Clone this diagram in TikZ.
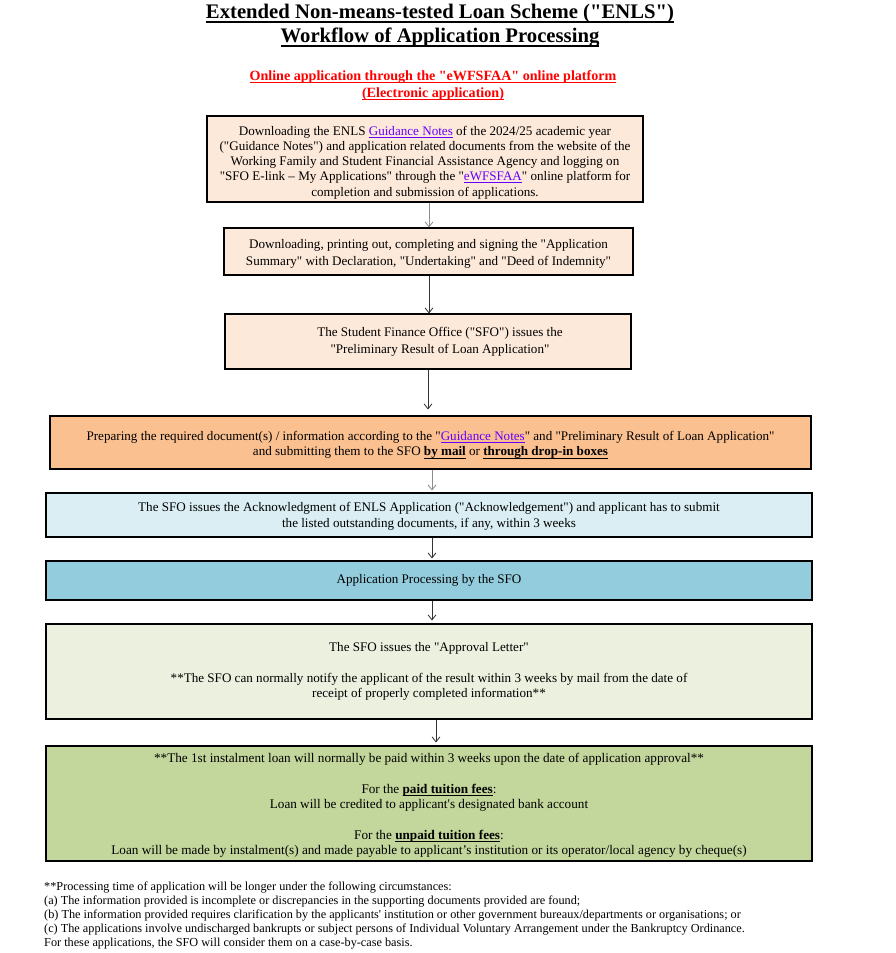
\documentclass[tikz,border=0pt]{standalone}
\usepackage{fontspec}
\setmainfont{Liberation Serif}[Ligatures=TeXOff]
\usetikzlibrary{arrows.meta}
\definecolor{peach}{RGB}{253,233,217}
\definecolor{orangebox}{RGB}{250,192,144}
\definecolor{lightblue}{RGB}{218,238,243}
\definecolor{midblue}{RGB}{147,205,221}
\definecolor{palegreen}{RGB}{235,241,222}
\definecolor{olivegreen}{RGB}{195,214,155}
\definecolor{linkcol}{RGB}{102,0,255}
\definecolor{titlered}{RGB}{255,0,0}
\newcommand\ulx[3]{\setbox0=\hbox{#3}\rlap{\copy0}\rule[#1]{\wd0}{#2}}
\newcommand\lnk[1]{{\color{linkcol}\ulx{-2.2pt}{0.7pt}{#1}}}
\newcommand\bul[1]{\ulx{-2.4pt}{0.7pt}{\bfseries #1}}
\newcommand\up[1]{\rule{0pt}{#1}}
\begin{document}
\begin{tikzpicture}[x=1pt,y=-1pt,
  box/.style={draw=black,line width=1.1pt,inner sep=0pt,align=center,font=\fontsize{13.1}{15.5}\selectfont},
  arr/.style={-{Straight Barb[length=5pt,width=8pt,line width=0.8pt]},line width=1pt,draw=black!80},
  garr/.style={arr,draw=black!45},
  ttl/.style={inner sep=0pt,align=center,font=\fontsize{20.7}{24}\selectfont\bfseries}]
\useasboundingbox (0,0) rectangle (895,953);
\fill[white] (0,0) rectangle (895,953);

\node[ttl] (title) at (440,26) {\ulx{-4.5pt}{2pt}{Extended Non-means-tested Loan Scheme ("ENLS")}\\[0pt]
\ulx{-4.5pt}{2pt}{Workflow of Application Processing}};

\node[inner sep=0pt,align=center,text=titlered,font=\fontsize{14.1}{17}\selectfont\bfseries] (sub) at (433,86)
{\ulx{-2.4pt}{1pt}{Online application through the "eWFSFAA" online platform}\\
\ulx{-2.4pt}{1pt}{(Electronic application)}};

\node[box,line width=2.8pt,fill=peach,minimum width=436,minimum height=86,font=\fontsize{13.1}{15.25}\selectfont] (b1) at (425,159)
{\up{16pt}Downloading the ENLS \lnk{Guidance Notes} of the 2024/25 academic year\\
("Guidance Notes") and application related documents from the website of the\\
Working Family and Student Financial Assistance Agency and logging on\\
"SFO E-link – My Applications" through the "\lnk{eWFSFAA}" online platform for\\
completion and submission of applications.};

\node[box,fill=peach,minimum width=409,minimum height=47,font=\fontsize{13.1}{16.8}\selectfont] (b2) at (428.5,251.5)
{\up{14pt}Downloading, printing out, completing and signing the "Application\\
Summary" with Declaration, "Undertaking" and "Deed of Indemnity"};

\node[box,fill=peach,minimum width=406,minimum height=55,font=\fontsize{13.1}{16.8}\selectfont] (b3) at (428,341.5)
{\hspace*{24pt}The Student Finance Office ("SFO") issues the\\
\hspace*{24pt}"Preliminary Result of Loan Application"};

\node[box,fill=orangebox,minimum width=761,minimum height=53] (b4) at (430.5,442.5)
{\up{14pt}Preparing the required document(s) / information according to the "\lnk{Guidance Notes}" and "Preliminary Result of Loan Application"\\
and submitting them to the SFO \bul{by mail} or \bul{through drop-in boxes}};

\node[box,fill=lightblue,minimum width=766,minimum height=44] (b5) at (429,515)
{\up{12pt}The SFO issues the Acknowledgment of ENLS Application ("Acknowledgement") and applicant has to submit\\
the listed outstanding documents, if any, within 3 weeks};

\node[box,fill=midblue,minimum width=766,minimum height=39] (b6) at (429,580.5)
{Application Processing by the SFO};

\node[box,fill=palegreen,minimum width=766,minimum height=95] (b7) at (429,671.5)
{The SFO issues the "Approval Letter"\\[15pt]
**The SFO can normally notify the applicant of the result within 3 weeks by mail from the date of\\
receipt of properly completed information**};

\node[box,fill=olivegreen,minimum width=766,minimum height=115,font=\fontsize{13.2}{15.4}\selectfont] (b8) at (429,803.5)
{\up{13pt}**The 1st instalment loan will normally be paid within 3 weeks upon the date of application approval**\\[15.4pt]
For the \bul{paid tuition fees}:\\
Loan will be credited to applicant's designated bank account\\[15.4pt]
For the \bul{unpaid tuition fees}:\\
Loan will be made by instalment(s) and made payable to applicant’s institution or its operator/local agency by cheque(s)};

\node[inner sep=0pt,anchor=north west,align=left,font=\fontsize{12.25}{14}\selectfont] (note) at (44,882)
{**Processing time of application will be longer under the following circumstances:\\
(a) The information provided is incomplete or discrepancies in the supporting documents provided are found;\\
(b) The information provided requires clarification by the applicants' institution or other government bureaux/departments or organisations; or\\
(c) The applications involve undischarged bankrupts or subject persons of Individual Voluntary Arrangement under the Bankruptcy Ordinance.\\
For these applications, the SFO will consider them on a case-by-case basis.};

\draw[garr] ([xshift=4pt]b1.south) -- ([xshift=0.5pt]b2.north);
\draw[arr] ([xshift=0.5pt]b2.south) -- ([xshift=1pt]b3.north);
\draw[arr,shorten >=6pt] (b3.south) -- ([xshift=-2.5pt]b4.north);
\draw[garr,shorten >=2pt] ([xshift=1.5pt]b4.south) -- ([xshift=3pt]b5.north);
\draw[arr,shorten >=2pt] ([xshift=3pt]b5.south) -- ([xshift=3pt]b6.north);
\draw[arr,shorten >=3pt] ([xshift=3pt]b6.south) -- ([xshift=3pt]b7.north);
\draw[arr,shorten >=3pt] ([xshift=7pt]b7.south) -- ([xshift=7pt]b8.north);
\end{tikzpicture}
\end{document}
